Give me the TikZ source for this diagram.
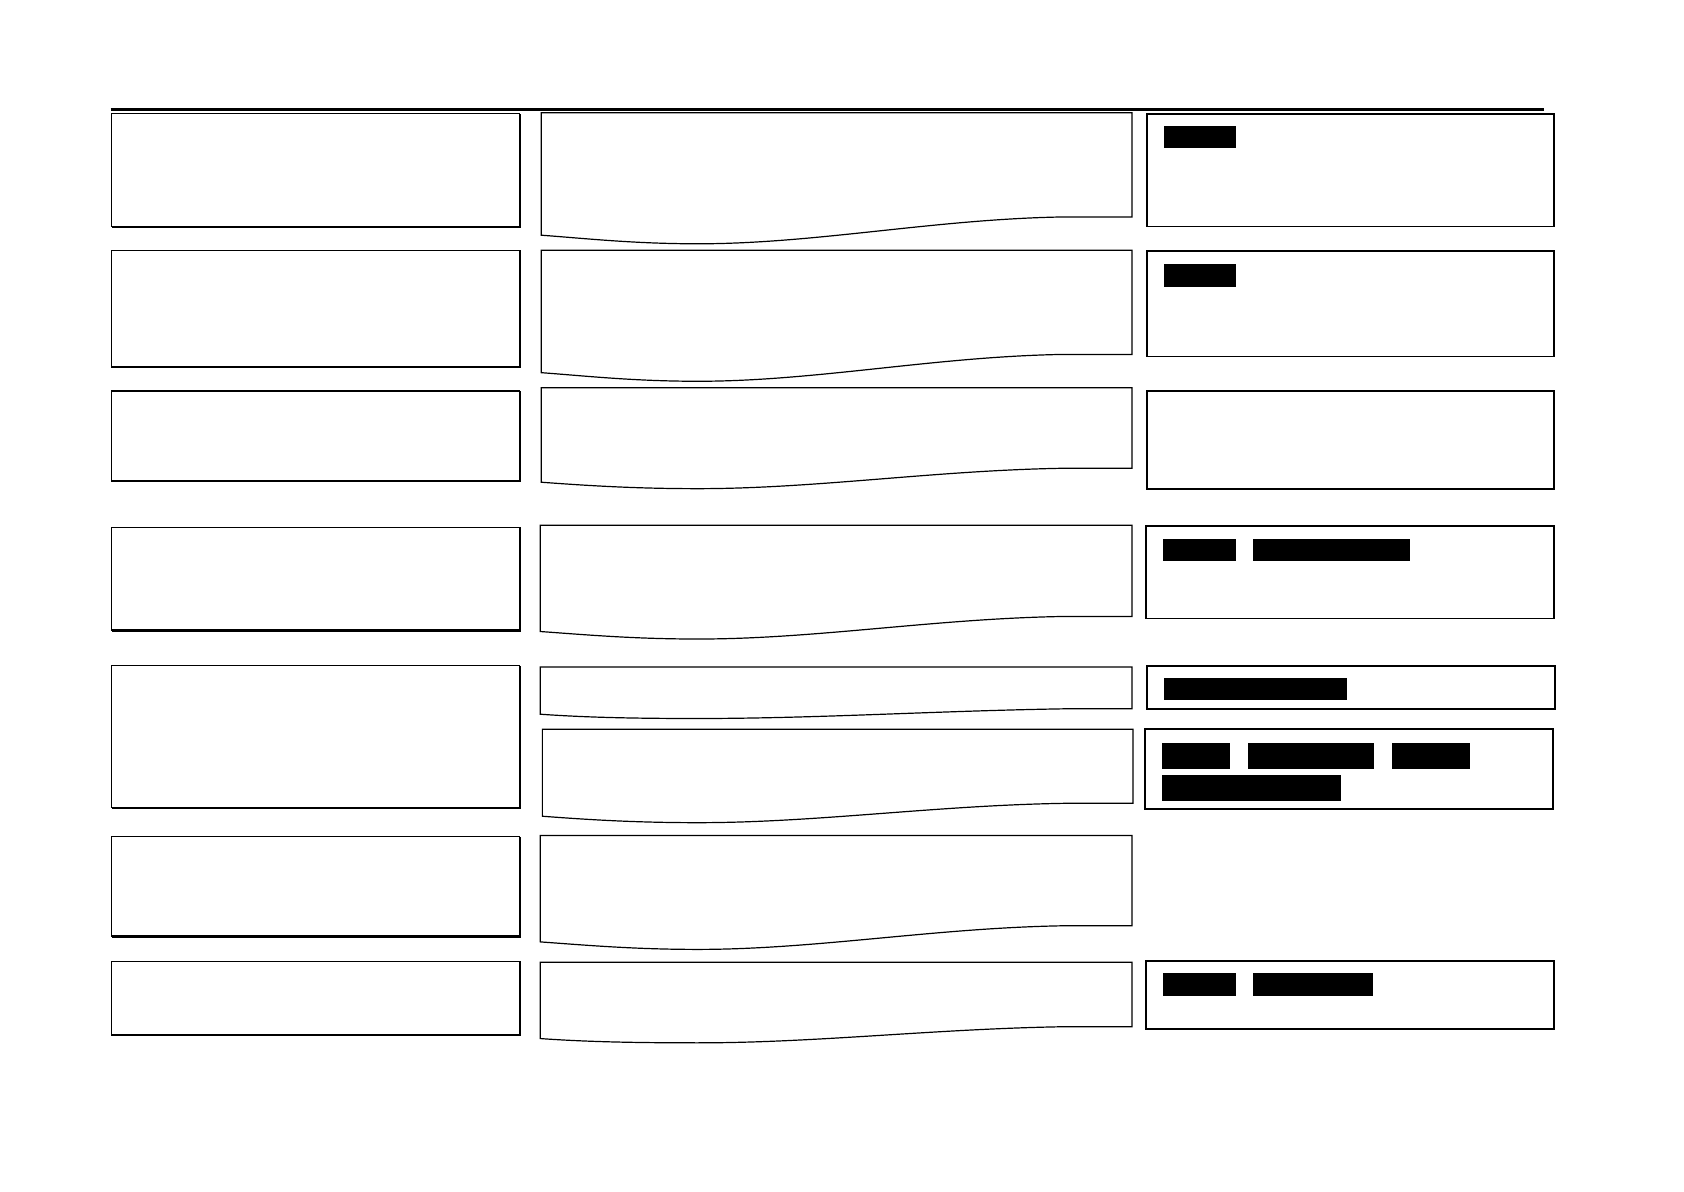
\documentclass[tikz,border=0pt]{standalone}
\begin{document}
\begin{tikzpicture}[x=0.537pt,y=-0.537pt,
  leftframe/.style={draw,line width=0.6pt},
  leftshade/.style={draw,line width=1.1pt},
  midframe/.style={draw,line width=0.6pt,line join=miter},
  rightframe/.style={draw,line width=0.85pt},
  redact/.style={fill=black,draw=none},
  topline/.style={draw,line width=1.3pt}]
\useasboundingbox (0,0) rectangle (1568,1109);
\newcommand\lbox[2]{%
  \draw[leftframe] (104,#1) rectangle (484,#2);
  \draw[leftshade] (104,#2) -- (484,#2) -- (484,#1);}
\newcommand\wbox[7]{% x0 x1 top rightbottom leftbottom min
  \draw[midframe] (#1,#3) -- (#2,#3) -- (#2,#4) -- (990,#4)
    .. controls (870,#4+2) and (760,#6) .. (650,#6)
    .. controls (590,#6) and (545,#5+3) .. (#1,#5) -- cycle;}
% top rule
\coordinate (tl) at (103,102);
\coordinate (tr) at (1438,102);
\draw[topline] (tl) -- (tr);
% left column
\lbox{106}{211}
\lbox{233}{342}
\lbox{364}{448}
\lbox{491}{587}
\lbox{620}{752}
\lbox{779}{872}
\lbox{895}{964}
% middle column
\wbox{504}{1054}{105}{202}{219}{227}{}
\wbox{504}{1054}{233}{330}{347}{355}{}
\wbox{504}{1054}{361}{436}{449}{455}{}
\wbox{503}{1054}{489}{574}{588}{595}{}
\wbox{503}{1054}{621}{660}{665}{669}{}
\wbox{505}{1055}{679}{748}{760}{766}{}
\wbox{503}{1054}{778}{862}{877}{884}{}
\wbox{503}{1054}{896}{956}{967}{971}{}
% right column
\draw[rightframe] (1068,106) rectangle (1447,211);
\fill[redact] (1084,117) rectangle (1151,138);
\draw[rightframe] (1068,234) rectangle (1447,332);
\fill[redact] (1084,246) rectangle (1151,267);
\draw[rightframe] (1068,364) rectangle (1447,455);
\draw[rightframe] (1067,490) rectangle (1447,576);
\fill[redact] (1083,502) rectangle (1151,522);
\fill[redact] (1167,502) rectangle (1313,522);
\draw[rightframe] (1068,620) rectangle (1448,660);
\fill[redact] (1084,631) rectangle (1254,652);
\draw[rightframe] (1066,679) rectangle (1446,753);
\fill[redact] (1082,692) rectangle (1145,716);
\fill[redact] (1162,692) rectangle (1279,716);
\fill[redact] (1296,692) rectangle (1369,716);
\fill[redact] (1082,722) rectangle (1249,746);
\draw[rightframe] (1067,895) rectangle (1447,958);
\fill[redact] (1083,906) rectangle (1151,927);
\fill[redact] (1167,906) rectangle (1278,927);
\end{tikzpicture}
\end{document}
